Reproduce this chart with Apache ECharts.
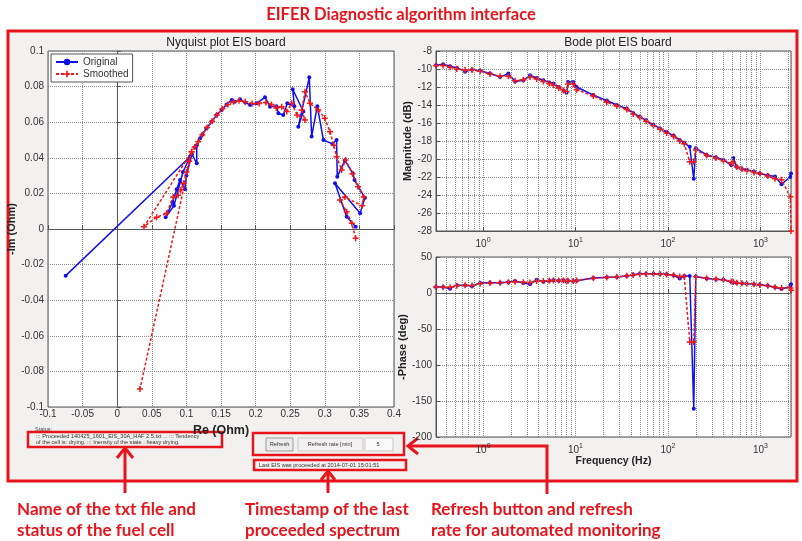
<!DOCTYPE html>
<html><head><meta charset="utf-8">
<script src="https://cdn.jsdelivr.net/npm/echarts@6/dist/echarts.min.js"></script>
<style>html,body{margin:0;padding:0;background:#fff}#c{width:802px;height:541px}</style>
</head><body><div id="c"></div>
<script>
// ---------------- DATA ----------------
const seriesNames = ['Original', 'Smoothed'];

// Nyquist (Re, -Im) in Ohm, ordered from low to high frequency
const nyqOrigRe = [0.3446,0.3316,0.3147,0.3510,0.3580,0.3430,0.3405,0.3290,0.3180,0.3170,0.3110,0.2980,0.2892,0.2810,0.2776,0.2617,0.2690,0.2536,0.2560,0.2458,0.2400,0.2329,0.2300,0.2208,0.2136,0.2016,0.1920,0.1850,0.1775,0.1700,0.1655,0.1580,0.1510,0.1437,0.1365,0.1290,0.1230,0.1197,0.1150,0.1124,0.1150,0.1080,0.1000,0.0980,0.0908,0.0860,0.0800,0.0700,0.0820,0.0950,0.1052,-0.0744];
const nyqOrigIm = [0.0013,0.0069,0.0257,0.0088,0.0175,0.0275,0.0313,0.0385,0.0294,0.0500,0.0478,0.0500,0.0690,0.0520,0.0852,0.0575,0.0660,0.0785,0.0690,0.0706,0.0640,0.0650,0.0690,0.0687,0.0740,0.0706,0.0697,0.0710,0.0729,0.0715,0.0725,0.0700,0.0669,0.0640,0.0603,0.0566,0.0530,0.0510,0.0470,0.0459,0.0369,0.0420,0.0300,0.0223,0.0275,0.0223,0.0150,0.0066,0.0130,0.0320,0.0406,-0.0262];
const nyqSmRe = [0.3446,0.3390,0.3316,0.3220,0.3290,0.3540,0.3560,0.3480,0.3400,0.3300,0.3244,0.3170,0.3130,0.3075,0.3000,0.2906,0.2786,0.2714,0.2666,0.2714,0.2600,0.2521,0.2450,0.2377,0.2300,0.2230,0.2150,0.2050,0.1950,0.1850,0.1760,0.1680,0.1600,0.1520,0.1440,0.1370,0.1300,0.1230,0.1170,0.1120,0.1076,0.1040,0.1000,0.0960,0.0920,0.0880,0.0810,0.0714,0.0570,0.0387,0.1076,0.0329];
const nyqSmIm = [-0.0052,0.0032,0.0097,0.0163,0.0180,0.0130,0.0180,0.0238,0.0310,0.0388,0.0331,0.0406,0.0470,0.0547,0.0622,0.0669,0.0706,0.0771,0.0669,0.0612,0.0640,0.0706,0.0660,0.0687,0.0680,0.0700,0.0710,0.0705,0.0705,0.0715,0.0720,0.0715,0.0700,0.0675,0.0640,0.0605,0.0570,0.0530,0.0490,0.0460,0.0434,0.0380,0.0320,0.0257,0.0220,0.0190,0.0180,0.0088,0.0066,0.0013,0.0434,-0.0899];

// Bode
const freqHz = [0.31,0.37,0.44,0.52,0.64,0.76,0.93,1.19,1.53,1.88,2.22,2.73,3.22,3.8,4.49,5.2,5.77,6.6,7.4,8.0,8.3,9.45,10.3,15.6,21.8,28,35.8,42,49.6,58,69.6,82,96.6,115,134,150,172,190,200,262,330,398,485,508,555,630,711,850,986,1200,1437,1690,2100,2140];
const magOrig = [-9.59,-9.48,-9.7,-9.85,-10.3,-10.07,-10.2,-10.5,-10.9,-10.5,-11.4,-11.25,-10.7,-11.0,-11.25,-11.5,-11.6,-12.0,-12.4,-12.65,-11.45,-11.45,-12.0,-12.9,-13.5,-14.0,-14.4,-14.9,-15.3,-15.7,-16.2,-16.6,-17.0,-17.4,-17.9,-18.2,-18.65,-22.2,-18.8,-19.55,-19.8,-20.1,-20.7,-19.9,-20.9,-21.1,-21.2,-21.4,-21.6,-21.8,-21.95,-22.8,-22.0,-21.6];
const magSmooth = [-9.6,-9.6,-9.8,-10.0,-10.1,-10.1,-10.25,-10.55,-10.8,-10.8,-11.3,-11.2,-10.9,-11.1,-11.4,-11.6,-11.8,-12.1,-12.4,-12.5,-11.7,-11.7,-12.3,-13.0,-13.7,-14.1,-14.5,-15.0,-15.4,-15.8,-16.3,-16.7,-17.1,-17.5,-18.0,-18.3,-20.3,-20.3,-19.0,-19.6,-19.9,-20.2,-20.5,-20.4,-20.9,-21.1,-21.3,-21.5,-21.6,-21.9,-22.2,-22.3,-24.2,-28.0];
const phaseOrig = [8.3,8.3,6.0,10.6,10.6,9.3,13.9,14.4,14.4,15,16.7,13.9,12,18.5,15.7,17,17.6,17,17.6,16,17,16.7,17,20.8,21.8,22.2,23.6,25.5,26.9,26.9,26.9,26.5,25.9,24.5,20,23.6,23.6,-160.6,23,20,19,18.5,15.3,15,13.9,13.5,13,12,11.6,10.2,8,5.5,9,12];
const phaseSmooth = [8.3,8.0,8.0,10.0,10.6,10.5,13.0,14.0,14.4,15.0,15.5,15.0,14.5,16.5,16.5,17,17.2,17.2,17.4,17,17,16.8,17.5,20.5,21.5,22.5,23.8,25.0,26.0,26.5,26.5,26.3,25.8,24.8,23.0,23.0,-68,-68,22.5,20.5,19.2,18.0,16.0,15.2,14.2,13.5,12.8,12.0,11.2,10.0,8.0,7.0,7.0,3.7];

// Tick/axis texts
const nyqXName = 'Re (Ohm)', nyqYName = '-Im (Ohm)';
const magYName = 'Magnitude (dB)', phaseYName = '-Phase (deg)', freqName = 'Frequency (Hz)';

// ---------------- CHART ----------------
const RED = '#e8141c', BLUE = '#1010ee', SRED = '#f01818';
const FONT = 'Liberation Sans';
const plusSym = 'path://M3,0H5V3H8V5H5V8H3V5H0V3H3Z';

function zip(a, b) { return a.map((v, i) => [v, b[i]]); }

// minor log grid values
const minorVals = [];
for (let d = -1; d <= 3; d++) for (let m = 2; m <= 9; m++) {
  const v = m * Math.pow(10, d);
  if (v > 0.31 && v < 2140) minorVals.push(+v.toPrecision(3));
}
const minorMark = {
  silent: true, symbol: 'none', label: { show: false }, animation: false,
  lineStyle: { type: 'dotted', color: '#8a8a8a', width: 1 },
  data: minorVals.map(v => ({ xAxis: v }))
};

function mkSeries(name, data, xi, yi, orig, mark) {
  const s = {
    name, type: 'line', xAxisIndex: xi, yAxisIndex: yi, data,
    symbol: orig ? 'circle' : plusSym, symbolSize: orig ? 4 : 6,
    showSymbol: true,
    itemStyle: { color: orig ? BLUE : SRED },
    lineStyle: { color: orig ? BLUE : SRED, width: 1.5, type: orig ? 'solid' : [3, 2] },
    z: orig ? 3 : 4
  };
  if (mark) s.markLine = minorMark;
  return s;
}

const axLabel = { color: '#333', fontSize: 10, fontFamily: FONT };
const split = { show: true, lineStyle: { type: 'dotted', color: '#8a8a8a', width: 1 } };
const axLine = { show: true, lineStyle: { color: '#555' } };
const tick = { show: true, inside: true, length: 4, lineStyle: { color: '#555' } };
const nameStyle = { color: '#222', fontSize: 11, fontWeight: 'bold', fontFamily: FONT };
const logLabel = {
  ...axLabel, margin: 6, showMinLabel: false, showMaxLabel: false,
  formatter: v => '10{s|' + Math.round(Math.log10(v)) + '}',
  rich: { s: { fontSize: 7, fontFamily: FONT, color: '#333', padding: [0, 0, 7, 0] } }
};

const gridStyle = { show: true, backgroundColor: '#fff', borderColor: '#555', borderWidth: 1, containLabel: false };
const capFont = 'bold 17px Lato';

const option = {
  animation: false,
  backgroundColor: '#fff',
  textStyle: { fontFamily: FONT },
  title: [
    { text: 'Nyquist plot EIS board', left: 221, top: 32, textAlign: 'center', textStyle: { fontSize: 12, fontWeight: 'normal', color: '#222', fontFamily: FONT } },
    { text: 'Bode plot EIS board', left: 613, top: 32, textAlign: 'center', textStyle: { fontSize: 12, fontWeight: 'normal', color: '#222', fontFamily: FONT } }
  ],
  legend: {
    data: seriesNames, left: 51, top: 54, orient: 'vertical', itemGap: 2,
    itemWidth: 22, itemHeight: 8, padding: [3, 4, 3, 4],
    backgroundColor: '#fff', borderColor: '#555', borderWidth: 1,
    textStyle: { fontSize: 10, color: '#333', fontFamily: FONT }
  },
  grid: [
    { left: 48, top: 51, width: 346, height: 356, ...gridStyle },
    { left: 436, top: 51, width: 355, height: 180, ...gridStyle },
    { left: 436, top: 257, width: 355, height: 180, ...gridStyle }
  ],
  xAxis: [
    { type: 'value', gridIndex: 0, min: -0.1, max: 0.4, interval: 0.05,
      name: nyqXName, nameLocation: 'middle', nameGap: 10, nameTextStyle: { ...nameStyle, fontSize: 12.5 },
      axisLabel: { ...axLabel, margin: 2 }, axisLine: axLine, axisTick: tick, splitLine: split },
    { type: 'log', gridIndex: 1, min: 0.31, max: 2140, logBase: 10,
      axisLabel: logLabel, axisLine: axLine, axisTick: tick, splitLine: split },
    { type: 'log', gridIndex: 2, min: 0.31, max: 2140, logBase: 10,
      name: freqName, nameLocation: 'middle', nameGap: 16, nameTextStyle: { ...nameStyle, fontSize: 10.5 },
      axisLabel: logLabel, axisLine: axLine, axisTick: tick, splitLine: split }
  ],
  yAxis: [
    { type: 'value', gridIndex: 0, min: -0.1, max: 0.1, interval: 0.02,
      name: nyqYName, nameLocation: 'middle', nameGap: 25, nameTextStyle: nameStyle,
      axisLabel: { ...axLabel, margin: 4 }, axisLine: axLine, axisTick: tick, splitLine: split },
    { type: 'value', gridIndex: 1, min: -28, max: -8, interval: 2,
      name: magYName, nameLocation: 'middle', nameGap: 16, nameTextStyle: nameStyle,
      axisLabel: { ...axLabel, margin: 4 }, axisLine: axLine, axisTick: tick, splitLine: split },
    { type: 'value', gridIndex: 2, min: -200, max: 50, interval: 50,
      name: phaseYName, nameLocation: 'middle', nameGap: 16, nameTextStyle: nameStyle,
      axisLabel: { ...axLabel, margin: 4 }, axisLine: axLine, axisTick: tick, splitLine: split }
  ],
  series: [
    mkSeries(seriesNames[0], zip(nyqOrigRe, nyqOrigIm), 0, 0, true, false),
    mkSeries(seriesNames[1], zip(nyqSmRe, nyqSmIm), 0, 0, false, false),
    mkSeries(seriesNames[0], zip(freqHz, magOrig), 1, 1, true, true),
    mkSeries(seriesNames[1], zip(freqHz, magSmooth), 1, 1, false, false),
    mkSeries(seriesNames[0], zip(freqHz, phaseOrig), 2, 2, true, true),
    mkSeries(seriesNames[1], zip(freqHz, phaseSmooth), 2, 2, false, false)
  ],
  graphic: [
    { type: 'rect', z: -10, silent: true, shape: { x: 8, y: 31, width: 789, height: 450 },
      style: { fill: '#f3f0f0', stroke: RED, lineWidth: 3 } },
    { type: 'text', x: 401, y: 15, silent: true,
      style: { text: 'EIFER Diagnostic algorithm interface', fill: RED, font: 'bold 16.5px Lato', align: 'center', verticalAlign: 'middle' } },
    // status area
    { type: 'text', x: 35, y: 429, style: { text: 'Status:', fill: '#444', font: '5.5px "Liberation Sans"', verticalAlign: 'middle' } },
    { type: 'rect', shape: { x: 28, y: 432, width: 194, height: 15 }, style: { fill: 'none', stroke: RED, lineWidth: 2.5 } },
    { type: 'text', x: 36, y: 436, style: { text: '::: Proceeded 140425_1601_EIS_30A_HAF 2.5.txt ... ::: Tendency', fill: '#333', font: '5.6px "Liberation Sans"', verticalAlign: 'middle' } },
    { type: 'text', x: 36, y: 442.5, style: { text: 'of the cell is: drying. ::: Inensity of the state : heavy drying.', fill: '#333', font: '5.6px "Liberation Sans"', verticalAlign: 'middle' } },
    // refresh area
    { type: 'rect', shape: { x: 253, y: 433, width: 151, height: 22 }, style: { fill: 'none', stroke: RED, lineWidth: 2.5 } },
    { type: 'rect', shape: { x: 266, y: 438, width: 27, height: 13 }, style: { fill: '#ececec', stroke: '#9a9a9a', lineWidth: 1 } },
    { type: 'text', x: 279.5, y: 444.5, style: { text: 'Refresh', fill: '#333', font: '5.6px "Liberation Sans"', align: 'center', verticalAlign: 'middle' } },
    { type: 'rect', shape: { x: 298, y: 438, width: 65, height: 13 }, style: { fill: '#f3f0f0', stroke: '#c8c8c8', lineWidth: 1 } },
    { type: 'text', x: 330, y: 444.5, style: { text: 'Refresh rate [min]', fill: '#333', font: '5.6px "Liberation Sans"', align: 'center', verticalAlign: 'middle' } },
    { type: 'rect', shape: { x: 365, y: 438, width: 28, height: 13 }, style: { fill: '#fafafa', stroke: '#c8c8c8', lineWidth: 1 } },
    { type: 'text', x: 378, y: 444.5, style: { text: '5', fill: '#333', font: '5.6px "Liberation Sans"', align: 'center', verticalAlign: 'middle' } },
    // timestamp
    { type: 'rect', shape: { x: 254, y: 460, width: 152, height: 10 }, style: { fill: 'none', stroke: RED, lineWidth: 2.5 } },
    { type: 'text', x: 259, y: 465, style: { text: 'Last EIS was proceeded at 2014-07-01 15:01:51', fill: '#333', font: '5.6px "Liberation Sans"', verticalAlign: 'middle' } },
    // arrows
    { type: 'polyline', shape: { points: [[125, 493], [125, 449]] }, style: { stroke: RED, lineWidth: 3 } },
    { type: 'polyline', shape: { points: [[117, 458], [125, 448], [133, 458]] }, style: { stroke: RED, lineWidth: 3, fill: 'none' } },
    { type: 'polyline', shape: { points: [[328, 493], [328, 472]] }, style: { stroke: RED, lineWidth: 3 } },
    { type: 'polyline', shape: { points: [[321, 480], [328, 471], [335, 480]] }, style: { stroke: RED, lineWidth: 3, fill: 'none' } },
    { type: 'polyline', shape: { points: [[547, 494], [547, 446], [409, 446]] }, style: { stroke: RED, lineWidth: 3, fill: 'none' } },
    { type: 'polyline', shape: { points: [[418, 438], [408, 446], [418, 454]] }, style: { stroke: RED, lineWidth: 3, fill: 'none' } },
    // captions
    { type: 'text', x: 17, y: 510, style: { text: 'Name of the txt file and', fill: RED, font: capFont, verticalAlign: 'middle' } },
    { type: 'text', x: 17, y: 531, style: { text: 'status of the fuel cell', fill: RED, font: capFont, verticalAlign: 'middle' } },
    { type: 'text', x: 245, y: 510, style: { text: 'Timestamp of the last', fill: RED, font: capFont, verticalAlign: 'middle' } },
    { type: 'text', x: 245, y: 531, style: { text: 'proceeded spectrum', fill: RED, font: capFont, verticalAlign: 'middle' } },
    { type: 'text', x: 431, y: 510, style: { text: 'Refresh button and refresh', fill: RED, font: capFont, verticalAlign: 'middle' } },
    { type: 'text', x: 431, y: 531, style: { text: 'rate for automated monitoring', fill: RED, font: capFont, verticalAlign: 'middle' } }
  ]
};

const chart = echarts.init(document.getElementById('c'), null, { renderer: 'canvas' });
chart.setOption(option);
</script></body></html>
